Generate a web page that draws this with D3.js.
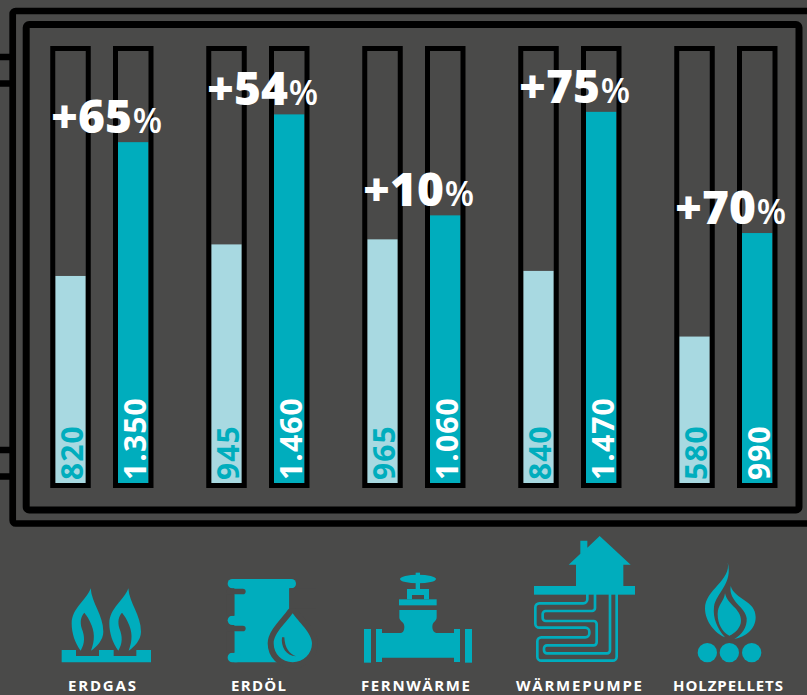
<!DOCTYPE html>
<html lang="de">
<head>
<meta charset="utf-8">
<title>Heizkosten nach Energieträger</title>
<script src="https://cdn.jsdelivr.net/npm/d3@7/dist/d3.min.js"></script>
<style>
html,body{margin:0;padding:0;background:#4a4a49;overflow:hidden}
svg{display:block}
text{font-family:"Open Sans",sans-serif}
</style>
</head>
<body>
<svg id="chart" width="807" height="695"></svg>
<script>
// Heating cost per energy source, earlier and later period
const categories = ["ERDGAS", "ERDÖL", "FERNWÄRME", "WÄRMEPUMPE", "HOLZPELLETS"];
const periods = ["vorher", "nachher"];
const earlier = [820, 945, 965, 840, 580];
const later = [1350, 1460, 1060, 1470, 990];
const increase = [65, 54, 10, 75, 70];

const BG = "#4a4a49", TEAL = "#00adbd", LIGHT = "#a8d9e1", INK = "#000";
const svg = d3.select("#chart");
const fmt = d3.formatLocale({decimal: ",", thousands: ".", grouping: [3], currency: ["", "€"]}).format(",d");

// Scales: one band per energy source, one sub-band per period
const x0 = d3.scaleBand().domain(categories).range([50.25, 830.25]);
const x1 = d3.scaleBand().domain(periods).range([0, 125.5]);
const y = d3.scaleLinear().domain([0, 1711]).range([483, 51]);
const tubeW = 40.5, wall = 5;

// Double frame with the connector stubs on the left
const frame = svg.append("g").attr("fill", "none").attr("stroke", INK);
frame.append("rect").attr("x", 12.7).attr("y", 11).attr("width", 900).attr("height", 512.5).attr("rx", 3).attr("stroke-width", 6.7);
frame.append("rect").attr("x", 26.2).attr("y", 24.5).attr("width", 772.8).attr("height", 485.5).attr("rx", 3).attr("stroke-width", 7);
[57, 83.5, 450, 476.5].forEach(v => {
  frame.append("line").attr("x1", 0).attr("x2", 10).attr("y1", v).attr("y2", v).attr("stroke-width", 6.5);
});

// Bars and their tube outlines
const series = periods.map((p, k) => ({
  period: p,
  values: (k ? later : earlier),
  fill: k ? TEAL : LIGHT,
  labelFill: k ? "#fff" : TEAL
}));

series.forEach(s => {
  const g = svg.append("g");
  const left = (c) => x0(c) + x1(s.period);
  categories.forEach((c, i) => {
    const v = s.values[i];
    g.append("rect")
      .attr("x", left(c) + wall).attr("width", tubeW - 2 * wall)
      .attr("y", y(v)).attr("height", y(0) - y(v))
      .attr("fill", s.fill);
    g.append("rect")
      .attr("x", left(c) + wall / 2).attr("width", tubeW - wall)
      .attr("y", y.range()[1] - wall / 2).attr("height", y(0) - y.range()[1] + wall)
      .attr("fill", "none").attr("stroke", INK).attr("stroke-width", wall);
    g.append("text")
      .attr("transform", `translate(${left(c) + 32.5},${y(0) - 3}) rotate(-90)`)
      .attr("font-size", 30).attr("font-weight", 700).attr("letter-spacing", 1.1)
      .attr("fill", s.labelFill).text(fmt(v));
  });
});

// Percentage increase above each later bar
categories.forEach((c, i) => {
  const t = svg.append("text")
    .attr("x", x0(c) + x1("nachher") - 62)
    .attr("y", y(later[i]) - 9)
    .attr("fill", "#fff").attr("font-weight", 800).attr("font-size", 46);
  t.append("tspan").text("+" + increase[i]);
  t.append("tspan").attr("dx", 1).attr("font-size", 34).attr("font-weight", 600).text("%");
});

// Energy source names below the frame
const labelCentres = [102, 258.5, 415.5, 579, 728];
const labelSpans = [68, 55, 109, 126, 110];
svg.append("g").selectAll("text").data(categories).join("text")
  .attr("x", (d, i) => labelCentres[i]).attr("y", 690.5)
  .attr("text-anchor", "middle").attr("fill", "#fff")
  .attr("font-size", 15).attr("font-weight", 700)
  .attr("textLength", (d, i) => labelSpans[i]).attr("lengthAdjust", "spacing")
  .text(d => d);

// Pictograms, each drawn on a 3x grid and scaled down
const icon = (x, y0) => svg.append("g").attr("transform", `translate(${x},${y0}) scale(${1 / 3})`).attr("fill", TEAL);

// Orthogonal pipe run with rounded bends
const pipeRun = (pts, r) => {
  const p = d3.path();
  p.moveTo(pts[0][0], pts[0][1]);
  for (let i = 1; i < pts.length - 1; i++) p.arcTo(pts[i][0], pts[i][1], pts[i + 1][0], pts[i + 1][1], r);
  p.lineTo(pts[pts.length - 1][0], pts[pts.length - 1][1]);
  return p.toString();
};

// Gas: two flames on a burner
const gas = icon(40, 550);
gas.append("path").attr("d", "M65,300H108V318H177V300H221V318H289V300H333V337H65Z");
const flame = "M152,115C155,160 190,195 190,245C190,270 170,290 153,302C165,270 165,245 150,215C143,200 138,195 133,188C122,200 120,215 125,235C135,260 135,280 122,302C105,280 95,250 95,220C95,175 140,150 152,115Z";
gas.append("path").attr("d", flame);
gas.append("path").attr("d", flame).attr("transform", "translate(113,0)");

// Oil: barrel with a drop in front
const oil = icon(40, 550);
oil.append("rect").attr("x", 563).attr("y", 87).attr("width", 205).attr("height", 28).attr("rx", 14);
oil.append("path").attr("d", "M583,100H748V250H720V337H583Z");
oil.append("rect").attr("x", 563).attr("y", 197).attr("width", 40).attr("height", 28).attr("rx", 14);
oil.append("rect").attr("x", 563).attr("y", 308).attr("width", 40).attr("height", 29).attr("rx", 14);
oil.append("rect").attr("x", 560).attr("y", 116).attr("width", 57).attr("height", 17).attr("rx", 8.5).attr("fill", BG);
oil.append("rect").attr("x", 560).attr("y", 227).attr("width", 57).attr("height", 17).attr("rx", 8.5).attr("fill", BG);
oil.append("rect").attr("x", 560).attr("y", 133).attr("width", 23).attr("height", 64).attr("fill", BG);
oil.append("rect").attr("x", 560).attr("y", 244).attr("width", 23).attr("height", 64).attr("fill", BG);
const drop = "M758,190C775,215 816,250 816,280C816,312 790,337 758,337C726,337 701,312 701,280C701,250 741,215 758,190Z";
oil.append("path").attr("d", drop).attr("fill", BG).attr("stroke", BG).attr("stroke-width", 36).attr("stroke-linejoin", "round");
oil.append("rect").attr("x", 748).attr("y", 115).attr("width", 80).attr("height", 60).attr("fill", BG);
oil.append("path").attr("d", drop);
oil.append("path").attr("d", "M726,262C722,290 738,318 768,319C748,313 734,292 733,262Z").attr("fill", BG);

// District heating: pipe with valve
const valve = icon(350, 530);
valve.append("rect").attr("x", 42).attr("y", 297).attr("width", 21).attr("height", 101);
valve.append("rect").attr("x", 345).attr("y", 297).attr("width", 21).attr("height", 101);
valve.append("rect").attr("x", 78).attr("y", 297).attr("width", 18).attr("height", 99);
valve.append("rect").attr("x", 312).attr("y", 297).attr("width", 18).attr("height", 99);
valve.append("path").attr("d", "M78,309H150C160,309 163,300 163,290C163,275 148,275 148,262V240H260V262C260,275 247,275 247,290C247,300 252,309 262,309H330V383H78Z");
valve.append("rect").attr("x", 147).attr("y", 208).attr("width", 113).attr("height", 18);
valve.append("path").attr("d", "M171,177H237V208H222V195H186V208H171Z");
valve.append("rect").attr("x", 197).attr("y", 128).attr("width", 13).attr("height", 50);
valve.append("ellipse").attr("cx", 204).attr("cy", 147).attr("rx", 54).attr("ry", 13);

// Heat pump: house over ground loops
const pump = icon(350, 530);
pump.append("path").attr("d", "M749,18L842,104H820V168H678V104H656L691,71V32H712V53Z");
pump.append("rect").attr("x", 552).attr("y", 168).attr("width", 303).attr("height", 26);
const loop = pump.append("g").attr("fill", "none").attr("stroke", TEAL).attr("stroke-width", 8);
loop.append("path").attr("d", pipeRun([[800, 190], [800, 392], [562, 392], [562, 322], [718, 322], [718, 293], [556, 293], [556, 220], [712, 220], [712, 190]], 12));
loop.append("path").attr("d", pipeRun([[780, 190], [780, 370], [582, 370], [582, 346], [740, 346], [740, 273], [578, 273], [578, 243], [735, 243], [735, 190]], 9));

// Wood pellets: flame over three pellets
const wood = icon(640, 540);
[202, 268, 335].forEach(cx => wood.append("circle").attr("cx", cx).attr("cy", 338).attr("r", 29));
wood.append("path").attr("d", "M263,67C275,120 195,150 195,205C195,245 225,280 255,292C232,265 218,235 222,200C228,160 280,130 263,67Z");
wood.append("path").attr("d", "M255,160C262,195 303,205 303,242C303,262 285,280 268,287C245,275 233,250 233,222C233,195 252,185 255,160Z");
wood.append("path").attr("d", "M272,138C285,180 347,180 347,232C347,268 315,292 283,297C305,285 322,262 320,235C316,200 265,185 272,138Z");
</script>
</body>
</html>
